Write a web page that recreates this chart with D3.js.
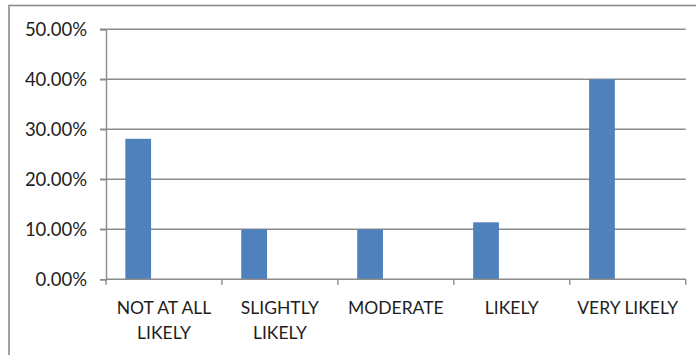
<!DOCTYPE html>
<html>
<head>
<meta charset="utf-8">
<script src="https://cdn.jsdelivr.net/npm/d3@7"></script>
<style>
  html, body { margin: 0; padding: 0; background: #fff; }
  svg { display: block; }
  text { font-family: Lato, "Open Sans", sans-serif; fill: #1e1e1e; }
</style>
</head>
<body>
<svg id="chart" width="696" height="355"></svg>
<script>
// Likelihood responses (share of respondents)
const categories = ["NOT AT ALL LIKELY", "SLIGHTLY LIKELY", "MODERATE", "LIKELY", "VERY LIKELY"];
const categoryLines = [["NOT AT ALL", "LIKELY"], ["SLIGHTLY", "LIKELY"], ["MODERATE"], ["LIKELY"], ["VERY LIKELY"]];
const shares = [0.281, 0.10, 0.10, 0.114, 0.40];
const yTicks = [0, 0.1, 0.2, 0.3, 0.4, 0.5];

const svg = d3.select("#chart");
const W = 696, H = 355;
const plotLeft = 106, plotRight = 685.7, plotTop = 29.3, plotBottom = 279.3;

// frame around the figure
svg.append("rect")
  .attr("x", 9).attr("y", 5.5)
  .attr("width", W + 20).attr("height", H + 20)
  .attr("fill", "none").attr("stroke", "#8a8a8a").attr("stroke-width", 1.6);

const x = d3.scaleBand().domain(categories).range([plotLeft, plotRight]).padding(0);
// each category reserves three clustered slots; the data occupies the first
const slot = d3.scaleBand().domain([0, 1, 2]).range([0, x.bandwidth()])
  .paddingInner(0).paddingOuter(0.75);
const y = d3.scaleLinear().domain([0, 0.5]).range([plotBottom, plotTop]);

// horizontal gridlines (include the short tick stub left of the axis)
svg.append("g").selectAll("line").data(yTicks.filter(t => t > 0)).join("line")
  .attr("x1", plotLeft - 6).attr("x2", plotRight)
  .attr("y1", d => y(d)).attr("y2", d => y(d))
  .attr("stroke", "#8c8c8c").attr("stroke-width", 1.4);

// bars
svg.append("g").selectAll("rect").data(categories).join("rect")
  .attr("x", (c) => x(c) + slot(0))
  .attr("width", slot.bandwidth())
  .attr("y", (c, i) => y(shares[i]))
  .attr("height", (c, i) => y(0) - y(shares[i]))
  .attr("fill", "#4f81bd");

// y axis
const yAxis = svg.append("g").attr("transform", `translate(${plotLeft},0)`)
  .call(d3.axisLeft(y).tickValues(yTicks).tickFormat(d3.format(".2%")).tickSize(6).tickPadding(13));
yAxis.select(".domain").attr("stroke", "#8c8c8c").attr("stroke-width", 1.4);
yAxis.selectAll(".tick line").attr("stroke", "#8c8c8c").attr("stroke-width", 1.4);
yAxis.selectAll(".tick text").attr("font-size", 18.5).attr("fill", "#1e1e1e")
  .style("font-family", "Lato, 'Open Sans', sans-serif");

// x axis: baseline plus tick marks at category boundaries
const xg = svg.append("g");
xg.append("line").attr("x1", plotLeft).attr("x2", plotRight)
  .attr("y1", y(0)).attr("y2", y(0))
  .attr("stroke", "#8c8c8c").attr("stroke-width", 1.4);
const bounds = categories.map(c => x(c)).concat([x(categories[categories.length - 1]) + x.bandwidth()]);
xg.selectAll("line.tk").data(bounds).join("line").attr("class", "tk")
  .attr("x1", d => d).attr("x2", d => d)
  .attr("y1", y(0)).attr("y2", y(0) + 5.5)
  .attr("stroke", "#8c8c8c").attr("stroke-width", 1.4);

// category labels, wrapped onto two lines where needed
const lbl = xg.selectAll("text.cat").data(categories).join("text").attr("class", "cat")
  .attr("text-anchor", "middle")
  .attr("font-size", 17.5);
lbl.each(function (c, i) {
  const t = d3.select(this);
  categoryLines[i].forEach((line, k) => {
    t.append("tspan")
      .attr("x", x(c) + x.bandwidth() / 2)
      .attr("y", 314.3 + k * 24.2)
      .text(line);
  });
});
</script>
</body>
</html>
